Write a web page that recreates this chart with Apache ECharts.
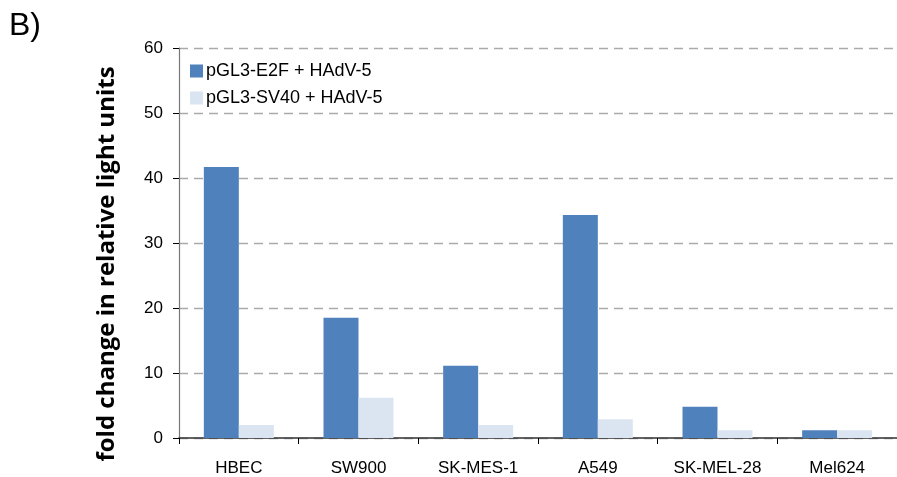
<!DOCTYPE html>
<html>
<head>
<meta charset="utf-8">
<script src="https://cdn.jsdelivr.net/npm/echarts@6/dist/echarts.min.js"></script>
<style>
  html, body { margin: 0; padding: 0; background: #fff; }
  #chart { width: 897px; height: 477px; }
</style>
</head>
<body>
<div id="chart"></div>
<script>
// Cell lines on the x axis
const cellLines = ['HBEC', 'SW900', 'SK-MES-1', 'A549', 'SK-MEL-28', 'Mel624'];
// Fold change in relative light units per reporter construct
const e2fValues = [41.7, 18.5, 11.1, 34.3, 4.8, 1.2];
const sv40Values = [2.0, 6.2, 2.0, 2.9, 1.2, 1.2];
const seriesNames = ['pGL3-E2F + HAdV-5', 'pGL3-SV40 + HAdV-5'];
const yTicks = { min: 0, max: 60, interval: 10 };
const yTitle = 'fold change in relative light units';

const chart = echarts.init(document.getElementById('chart'), null, { renderer: 'canvas' });
const labelFont = 'Liberation Sans, Arial, sans-serif';

chart.setOption({
  animation: false,
  graphic: [
    {
      type: 'text', left: 9, top: 10,
      style: { text: 'B)', font: '32px ' + labelFont, fill: '#000' }
    },
    {
      type: 'text', x: 107, y: 264, rotation: Math.PI / 2,
      style: {
        text: yTitle,
        font: 'bold 24px "Open Sans", "Liberation Sans", sans-serif',
        fill: '#000', align: 'center', verticalAlign: 'middle'
      }
    }
  ],
  legend: {
    left: 185, top: 57, orient: 'vertical',
    itemWidth: 13, itemHeight: 13, itemGap: 9,
    icon: 'rect',
    textStyle: { fontFamily: labelFont, fontSize: 18, color: '#000', padding: [0, 0, 0, -2] },
    data: seriesNames
  },
  grid: { left: 179, top: 48, width: 728, height: 390, containLabel: false },
  xAxis: {
    type: 'category', data: cellLines,
    axisLine: { lineStyle: { color: '#333', width: 1.5 } },
    axisTick: { show: true, length: 6, alignWithLabel: false, lineStyle: { color: '#000' } },
    axisLabel: { fontFamily: labelFont, fontSize: 17, color: '#000', margin: 22 }
  },
  yAxis: {
    type: 'value', min: yTicks.min, max: yTicks.max, interval: yTicks.interval,
    axisLine: { show: true, lineStyle: { color: '#777', width: 1.2 } },
    axisTick: { show: true, inside: false, length: 6, lineStyle: { color: '#000' } },
    axisLabel: { fontFamily: labelFont, fontSize: 17, color: '#000', margin: 16 },
    splitLine: { show: true, lineStyle: { color: '#aaa', type: [9, 6], width: 1.3 } }
  },
  series: [
    {
      name: seriesNames[0], type: 'bar', data: e2fValues,
      barWidth: 35, barGap: '0%',
      itemStyle: { color: '#4F81BD' }
    },
    {
      name: seriesNames[1], type: 'bar', data: sv40Values,
      barWidth: 35, barGap: '0%',
      itemStyle: { color: '#DBE5F1' }
    }
  ]
});
</script>
</body>
</html>
